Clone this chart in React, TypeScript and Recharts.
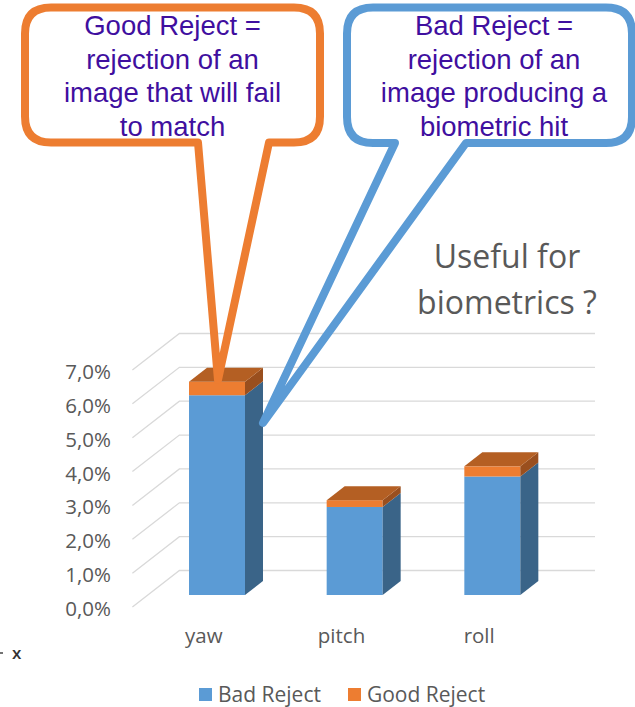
import React from 'react';
import { BarChart, Bar, XAxis, YAxis, CartesianGrid, Legend } from 'recharts';

const categories = ['yaw', 'pitch', 'roll'];
const badReject = [0.059, 0.026, 0.035];
const goodReject = [0.004, 0.002, 0.003];
const yTicks = [0, 0.01, 0.02, 0.03, 0.04, 0.05, 0.06, 0.07];
const seriesNames = ['Bad Reject', 'Good Reject'];
const goodCallout = ['Good Reject =', 'rejection of an', 'image that will fail', 'to match'];
const badCallout = ['Bad Reject =', 'rejection of an', 'image producing a', 'biometric hit'];
const sideNote = ['Useful for', 'biometrics ?'];

const data = categories.map((c, i) => ({ name: c, bad: badReject[i], good: goodReject[i] }));

const BLUE = '#5B9BD5';
const BLUE_SIDE = '#3A6488';
const ORANGE = '#ED7D31';
const ORANGE_SIDE = '#9A4F1E';
const ORANGE_TOP = '#B45F23';
const TEXT = '#595959';
const PURPLE = '#3F0F9F';
const FONT = '"Open Sans", sans-serif';
const ARIAL = '"Liberation Sans", Arial, sans-serif';

// 3D depth of a bar and of the chart walls
const DX = 18;
const DY = 14;
const WALL_FRONT_DX = -15.6;
const WALL_FRONT_DY = 12;
const WALL_BACK_DX = 31.4;
const WALL_BACK_DY = -24.5;

const fmt = (v: number) => (v * 100).toFixed(1).replace('.', ',') + '%';

const makeShape = (front: string, side: string, top: string | null) => (props: any) => {
  const { x, y, width, height } = props;
  if (!height || height <= 0) return <g />;
  const x2 = x + width;
  const yb = y + height;
  return (
    <g>
      <rect x={x} y={y} width={width} height={height} fill={front} />
      <polygon points={`${x2},${y} ${x2 + DX},${y - DY} ${x2 + DX},${yb - DY} ${x2},${yb}`} fill={side} />
      {top && <polygon points={`${x},${y} ${x + DX},${y - DY} ${x2 + DX},${y - DY} ${x2},${y}`} fill={top} />}
    </g>
  );
};

const gridLine = (p: any) => {
  const y = p.y1;
  const d = `M${p.x1 + WALL_FRONT_DX},${y + WALL_FRONT_DY} L${p.x1 + WALL_BACK_DX},${y + WALL_BACK_DY} L${p.x2 + 34},${y + WALL_BACK_DY}`;
  return <path key={p.key ?? `g-${y}`} d={d} fill="none" stroke="#D9D9D9" strokeWidth={1.3} />;
};

const YTick = (p: any) => (
  <text x={p.x} y={p.y + 21} textAnchor="end" fill={TEXT} fontSize={20.5} fontFamily={FONT}>
    {fmt(p.payload.value)}
  </text>
);

const XTick = (p: any) => (
  <text x={p.x - 13} y={p.y + 48} textAnchor="middle" fill={TEXT} fontSize={20.5} fontFamily={FONT}>
    {p.payload.value}
  </text>
);

const renderLegend = (props: any) => {
  const items = props.payload ?? [];
  return (
    <div style={{ display: 'flex', alignItems: 'center', fontFamily: FONT, fontSize: 21, color: TEXT, lineHeight: '21px' }}>
      {items.map((it: any, i: number) => (
        <div key={i} style={{ display: 'flex', alignItems: 'center', marginRight: 27 }}>
          <span style={{ width: 13, height: 13, background: it.color, display: 'inline-block', marginRight: 6 }} />
          <span>{it.value}</span>
        </div>
      ))}
    </div>
  );
};

const bubblePath = (l: number, t: number, r: number, b: number, rad: number, ta: number, tb: number, tip: [number, number]) =>
  `M${ta},${b} L${tip[0]},${tip[1]} L${tb},${b} L${r - rad},${b} Q${r},${b} ${r},${b - rad} L${r},${t + rad} Q${r},${t} ${r - rad},${t} L${l + rad},${t} Q${l},${t} ${l},${t + rad} L${l},${b - rad} Q${l},${b} ${l + rad},${b} Z`;

const Callouts = () => (
  <svg width={635} height={707} style={{ position: 'absolute', left: 0, top: 0, pointerEvents: 'none' }}>
    <path d={bubblePath(25, 7.5, 320, 142.5, 26, 198, 269, [218, 380])} fill="none" stroke={ORANGE} strokeWidth={8} strokeLinejoin="round" />
    <path d={bubblePath(347, 7.5, 632, 143, 26, 395, 466, [263, 423])} fill="none" stroke={BLUE} strokeWidth={8} strokeLinejoin="round" />
    {goodCallout.map((s, i) => (
      <text key={s} x={172.5} y={35 + i * 33.7} textAnchor="middle" fill={PURPLE} fontSize={27.5} fontFamily={ARIAL}>{s}</text>
    ))}
    {badCallout.map((s, i) => (
      <text key={s} x={494} y={35 + i * 33.7} textAnchor="middle" fill={PURPLE} fontSize={27.5} fontFamily={ARIAL}>{s}</text>
    ))}
    {sideNote.map((s, i) => (
      <text key={s} x={507} y={268 + i * 46} textAnchor="middle" fill={TEXT} fontSize={32} fontFamily={FONT}>{s}</text>
    ))}
    <line x1={0} y1={653} x2={3} y2={653} stroke="#444" strokeWidth={1.5} />
    <text x={12} y={659} fill="#333" fontSize={17} fontWeight={600} fontFamily={FONT}>x</text>
  </svg>
);

export default function App() {
  return (
    <div style={{ position: 'absolute', left: 0, top: 0, width: 635, height: 707, background: '#fff' }}>
      <BarChart width={635} height={707} data={data} margin={{ top: 358, right: 74, bottom: 82, left: 108 }}>
        <CartesianGrid vertical={false} horizontal={gridLine} />
        <XAxis dataKey="name" height={30} axisLine={false} tickLine={false} tickSize={0} tickMargin={0} tick={XTick} interval={0} />
        <YAxis width={40} domain={[0, 0.07]} ticks={yTicks} axisLine={false} tickLine={false} tickSize={0} tickMargin={37} tick={YTick} interval={0} />
        <Bar dataKey="bad" name={seriesNames[0]} stackId="a" fill={BLUE} barSize={56} isAnimationActive={false} shape={makeShape(BLUE, BLUE_SIDE, null)} />
        <Bar dataKey="good" name={seriesNames[1]} stackId="a" fill={ORANGE} barSize={56} isAnimationActive={false} shape={makeShape(ORANGE, ORANGE_SIDE, ORANGE_TOP)} />
        <Legend layout="horizontal" verticalAlign="middle" align="center" content={renderLegend} wrapperStyle={{ left: 199, top: 684, width: 420 }} />
      </BarChart>
      <Callouts />
    </div>
  );
}
